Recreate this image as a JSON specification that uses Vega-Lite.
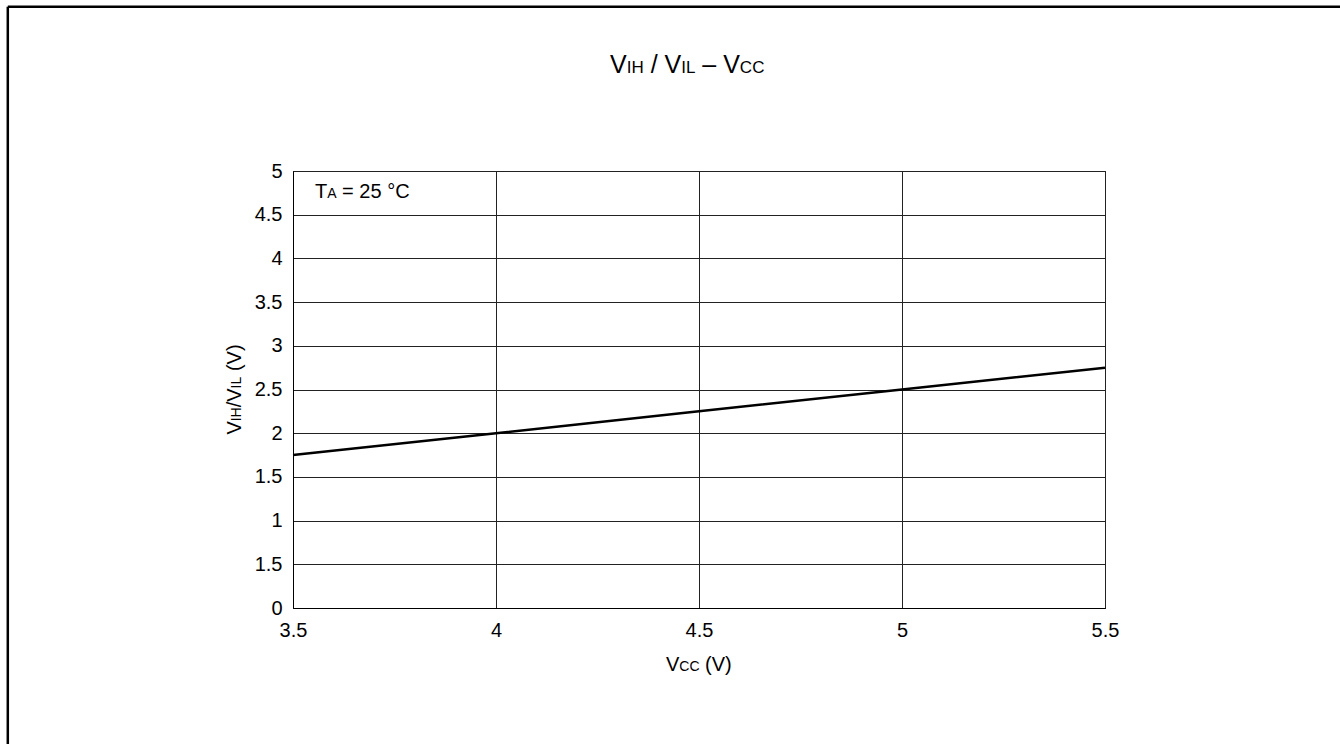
{
  "$schema": "https://vega.github.io/schema/vega-lite/v6.json",
  "autosize": "none",
  "width": 812,
  "height": 437,
  "padding": {"left": 293, "top": 171, "right": 235, "bottom": 136},
  "background": "white",
  "datasets": {
    "curve": [
      {"vcc": 3.5, "v": 1.75},
      {"vcc": 4.0, "v": 2.0},
      {"vcc": 4.5, "v": 2.25},
      {"vcc": 5.0, "v": 2.5},
      {"vcc": 5.5, "v": 2.75}
    ],
    "one": [{}]
  },
  "layer": [
    {
      "data": {"name": "curve"},
      "mark": {"type": "line", "color": "black", "strokeWidth": 2.5},
      "encoding": {
        "x": {"field": "vcc", "type": "quantitative",
              "scale": {"domain": [3.5, 5.5], "nice": false, "zero": false},
              "axis": {"title": null, "values": [3.5, 4, 4.5, 5, 5.5], "format": ".1~f", "labelPadding": 12, "labelFlush": false}},
        "y": {"field": "v", "type": "quantitative",
              "scale": {"domain": [0, 5], "nice": false},
              "axis": {"title": null, "values": [0, 0.5, 1, 1.5, 2, 2.5, 3, 3.5, 4, 4.5, 5], "format": ".1~f",
                       "labelExpr": "datum.value == 0.5 ? '1.5' : datum.label", "labelPadding": 11, "labelFlush": false}}
      }
    },
    {
      "data": {"name": "one"},
      "mark": {"type": "rule", "color": "black", "strokeWidth": 2.5, "clip": false},
      "encoding": {"x": {"datum": 2.79754}, "y": {"datum": 6.8787}, "y2": {"datum": -2}}
    },
    {
      "data": {"name": "one"},
      "mark": {"type": "rule", "color": "black", "strokeWidth": 2.5, "clip": false},
      "encoding": {"x": {"datum": 2.79754}, "x2": {"datum": 7}, "y": {"datum": 6.8787}}
    },
    {
      "data": {"name": "one"},
      "mark": {"type": "text", "text": "V", "fontSize": 25, "font": "Liberation Sans", "color": "black", "align": "left", "baseline": "alphabetic", "dx": -89},
      "encoding": {"x": {"datum": 4.5}, "y": {"datum": 6.1247}}
    },
    {
      "data": {"name": "one"},
      "mark": {"type": "text", "text": "IH", "fontSize": 17, "font": "Liberation Sans", "color": "black", "align": "left", "baseline": "alphabetic", "dx": -72.3},
      "encoding": {"x": {"datum": 4.5}, "y": {"datum": 6.1247}}
    },
    {
      "data": {"name": "one"},
      "mark": {"type": "text", "text": "/ V", "fontSize": 25, "font": "Liberation Sans", "color": "black", "align": "left", "baseline": "alphabetic", "dx": -48.35},
      "encoding": {"x": {"datum": 4.5}, "y": {"datum": 6.1247}}
    },
    {
      "data": {"name": "one"},
      "mark": {"type": "text", "text": "IL", "fontSize": 17, "font": "Liberation Sans", "color": "black", "align": "left", "baseline": "alphabetic", "dx": -17.8},
      "encoding": {"x": {"datum": 4.5}, "y": {"datum": 6.1247}}
    },
    {
      "data": {"name": "one"},
      "mark": {"type": "text", "text": "– V", "fontSize": 25, "font": "Liberation Sans", "color": "black", "align": "left", "baseline": "alphabetic", "dx": 3.35},
      "encoding": {"x": {"datum": 4.5}, "y": {"datum": 6.1247}}
    },
    {
      "data": {"name": "one"},
      "mark": {"type": "text", "text": "CC", "fontSize": 17, "font": "Liberation Sans", "color": "black", "align": "left", "baseline": "alphabetic", "dx": 40.85},
      "encoding": {"x": {"datum": 4.5}, "y": {"datum": 6.1247}}
    },
    {
      "data": {"name": "one"},
      "mark": {"type": "text", "text": "V", "fontSize": 20, "font": "Liberation Sans", "color": "black", "align": "left", "baseline": "alphabetic", "dx": -33},
      "encoding": {"x": {"datum": 4.5}, "y": {"datum": -0.7243}}
    },
    {
      "data": {"name": "one"},
      "mark": {"type": "text", "text": "CC", "fontSize": 14, "font": "Liberation Sans", "color": "black", "align": "left", "baseline": "alphabetic", "dx": -19.7},
      "encoding": {"x": {"datum": 4.5}, "y": {"datum": -0.7243}}
    },
    {
      "data": {"name": "one"},
      "mark": {"type": "text", "text": "(V)", "fontSize": 20, "font": "Liberation Sans", "color": "black", "align": "left", "baseline": "alphabetic", "dx": 6.1},
      "encoding": {"x": {"datum": 4.5}, "y": {"datum": -0.7243}}
    },
    {
      "data": {"name": "one"},
      "mark": {"type": "text", "text": "V", "fontSize": 20, "font": "Liberation Sans", "color": "black", "align": "left", "baseline": "alphabetic", "angle": 270, "dx": -45.1},
      "encoding": {"x": {"datum": 3.37192}, "y": {"datum": 2.5}}
    },
    {
      "data": {"name": "one"},
      "mark": {"type": "text", "text": "IH", "fontSize": 14, "font": "Liberation Sans", "color": "black", "align": "left", "baseline": "alphabetic", "angle": 270, "dx": -31.8},
      "encoding": {"x": {"datum": 3.37192}, "y": {"datum": 2.5}}
    },
    {
      "data": {"name": "one"},
      "mark": {"type": "text", "text": "/V", "fontSize": 20, "font": "Liberation Sans", "color": "black", "align": "left", "baseline": "alphabetic", "angle": 270, "dx": -17.8},
      "encoding": {"x": {"datum": 3.37192}, "y": {"datum": 2.5}}
    },
    {
      "data": {"name": "one"},
      "mark": {"type": "text", "text": "IL", "fontSize": 14, "font": "Liberation Sans", "color": "black", "align": "left", "baseline": "alphabetic", "angle": 270, "dx": 1.1},
      "encoding": {"x": {"datum": 3.37192}, "y": {"datum": 2.5}}
    },
    {
      "data": {"name": "one"},
      "mark": {"type": "text", "text": "(V)", "fontSize": 20, "font": "Liberation Sans", "color": "black", "align": "left", "baseline": "alphabetic", "angle": 270, "dx": 18.4},
      "encoding": {"x": {"datum": 3.37192}, "y": {"datum": 2.5}}
    },
    {
      "data": {"name": "one"},
      "mark": {"type": "text", "text": "T", "fontSize": 20, "font": "Liberation Sans", "color": "black", "align": "left", "baseline": "alphabetic", "dx": 22},
      "encoding": {"x": {"datum": 3.5}, "y": {"datum": 4.6945}}
    },
    {
      "data": {"name": "one"},
      "mark": {"type": "text", "text": "A", "fontSize": 14, "font": "Liberation Sans", "color": "black", "align": "left", "baseline": "alphabetic", "dx": 34.2},
      "encoding": {"x": {"datum": 3.5}, "y": {"datum": 4.6945}}
    },
    {
      "data": {"name": "one"},
      "mark": {"type": "text", "text": "= 25 °C", "fontSize": 20, "font": "Liberation Sans", "color": "black", "align": "left", "baseline": "alphabetic", "dx": 49.1},
      "encoding": {"x": {"datum": 3.5}, "y": {"datum": 4.6945}}
    }
  ],
  "config": {
    "view": {"stroke": "black", "strokeWidth": 1},
    "axis": {
      "grid": true, "gridColor": "#222", "gridOpacity": 1, "gridWidth": 1,
      "domainColor": "black", "domainWidth": 1, "tickSize": 0, "ticks": false,
      "labelFont": "Liberation Sans", "labelFontSize": 20, "labelColor": "black"
    }
  }
}
